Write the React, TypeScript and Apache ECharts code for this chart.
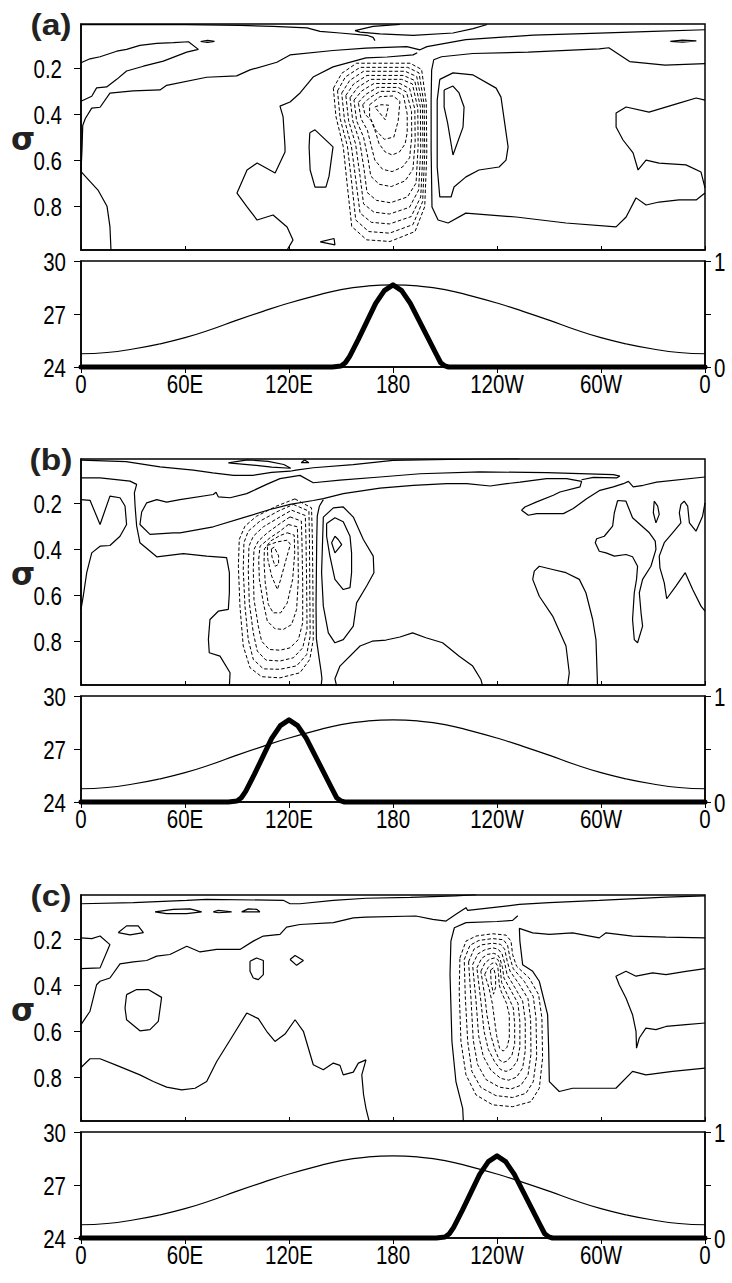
import React, { useEffect, useRef } from "react";
import * as echarts from "echarts";

type Pt = [number, number];

// ---------- axes / ticks ----------
const xTickValues = [0, 60, 120, 180, 240, 300, 360];
const xTickLabels = ["0", "60E", "120E", "180", "120W", "60W", "0"];
const sigmaTicks = [0.2, 0.4, 0.6, 0.8];
const sstTicks = [24, 27, 30];
const heatTickValues = [0, 1];
const heatTickLabels = ["0", "1"];
const panelLabels = ["(a)", "(b)", "(c)"];

// ---------- SST profile (left axis, degC) ----------
const sstLon = [0, 15, 30, 45, 60, 75, 90, 105, 120, 135, 150, 165, 180, 195, 210, 225, 240, 255, 270, 285, 300, 315, 330, 345, 360];
const sstVal = [24.75, 24.82, 25.02, 25.3, 25.66, 26.12, 26.65, 27.15, 27.62, 28.03, 28.38, 28.58, 28.65, 28.58, 28.38, 28.03, 27.62, 27.15, 26.65, 26.12, 25.66, 25.3, 25.02, 24.82, 24.75];

// ---------- heating profiles (right axis, 0..1) ----------
const heatLonA = [0, 145, 150, 152.5, 155, 160, 165, 170, 175, 180, 185, 190, 195, 200, 205, 207.5, 210, 212, 360];
const heatA = [0, 0, 0.01, 0.04, 0.1, 0.26, 0.43, 0.6, 0.72, 0.775, 0.72, 0.6, 0.44, 0.28, 0.12, 0.04, 0.01, 0, 0];
const heatLonB = [0, 85, 90, 92.5, 95, 100, 105, 110, 115, 120, 125, 130, 135, 140, 145, 147.5, 150, 152, 360];
const heatB = [0, 0, 0.01, 0.04, 0.1, 0.26, 0.43, 0.6, 0.72, 0.775, 0.72, 0.6, 0.44, 0.28, 0.12, 0.04, 0.01, 0, 0];
const heatLonC = [0, 205, 210, 212.5, 215, 220, 225, 230, 235, 240, 245, 250, 255, 260, 265, 267.5, 270, 272, 360];
const heatC = [0, 0, 0.01, 0.04, 0.1, 0.26, 0.43, 0.6, 0.72, 0.775, 0.72, 0.6, 0.44, 0.28, 0.12, 0.04, 0.01, 0, 0];

// ---------- panel (a) contours [lon, sigma] ----------
const aTop: Pt[] = [[0, 0.013], [60, 0.013], [91.7, 0.016], [110.8, 0.02], [130.4, 0.027], [137.9, 0.042], [149.4, 0.049], [165, 0.059], [168.5, 0.068], [169.6, 0.082]];
const aLens: Pt[] = [[184, 0.012], [168.5, 0.02], [158.1, 0.039], [161, 0.045], [172.5, 0.053], [191.6, 0.059], [214.6, 0.049], [226.2, 0.03], [234.3, 0.012]];
const aSliverL: Pt[] = [[69, 0.086], [73, 0.081], [77, 0.085], [73, 0.09], [69, 0.086]];
const aSliverR: Pt[] = [[340, 0.085], [347, 0.08], [355, 0.083], [347, 0.089], [340, 0.085]];
const aTongue: Pt[] = [[0, 0.178], [5.2, 0.161], [11, 0.152], [20.6, 0.128], [26.3, 0.12], [34, 0.103], [43.7, 0.094], [53.3, 0.091], [62, 0.087], [67.7, 0.12], [61, 0.132], [47.5, 0.171], [36, 0.193], [26.3, 0.214], [20.6, 0.25], [14.8, 0.283], [9, 0.287], [6.2, 0.323], [0, 0.345]];
const aL3: Pt[] = [[17.3, 0.99], [16.7, 0.889], [15, 0.8], [9.8, 0.73], [0, 0.65], [0.6, 0.55], [1, 0.45], [2.5, 0.42], [6.2, 0.375], [11, 0.371], [16.7, 0.31], [30, 0.3], [45.6, 0.296], [49.4, 0.276], [72.5, 0.241], [89.8, 0.235], [97.5, 0.209], [113, 0.176], [120.6, 0.144], [145.4, 0.125], [164.4, 0.115], [188, 0.108], [195.6, 0.122], [199.6, 0.108], [222, 0.078], [261, 0.058], [299, 0.05], [330, 0.042], [360, 0.035]];
const aL5: Pt[] = [[118.9, 0.99], [122.3, 0.947], [118.9, 0.89], [110.8, 0.838], [101.6, 0.86], [95.8, 0.803], [90, 0.743], [95.8, 0.643], [101.6, 0.613], [112, 0.656], [117.7, 0.565], [117.7, 0.543], [116.6, 0.413], [114.8, 0.366], [120.6, 0.348], [126.4, 0.309], [133.9, 0.24], [145.4, 0.196], [164.4, 0.157], [176.6, 0.153], [191.6, 0.144], [194, 0.135]];
const aBlob: Pt[] = [[132, 0.482], [135, 0.469], [145.4, 0.543], [143.1, 0.67], [141.3, 0.717], [135, 0.717], [132.2, 0.643], [131.6, 0.543], [132, 0.482]];
const aTri: Pt[] = [[138, 0.955], [146, 0.94], [146.5, 0.968], [138, 0.955]];
const aP1: Pt[] = [[360, 0.182], [337, 0.188], [316.5, 0.173], [304.5, 0.113], [299, 0.118], [258, 0.132], [226, 0.138], [208, 0.152], [203.5, 0.165], [202.3, 0.21], [202, 0.34], [202, 0.556], [202.5, 0.804], [206, 0.86], [211.8, 0.873], [222, 0.83], [251, 0.847], [279.8, 0.873], [308.7, 0.89], [314.5, 0.847], [320.2, 0.764], [326, 0.795], [333.5, 0.782], [345, 0.773], [354.9, 0.773], [360, 0.743]];
const aP2: Pt[] = [[207, 0.25], [214.6, 0.222], [226.2, 0.231], [239.5, 0.288], [242.3, 0.327], [246.4, 0.543], [245.2, 0.6], [241.2, 0.63], [229.6, 0.643], [222.1, 0.673], [215.2, 0.717], [213.5, 0.76], [207, 0.76], [205.5, 0.63], [205.5, 0.34], [207, 0.25]];
const aP3: Pt[] = [[209.5, 0.296], [214.6, 0.279], [218.1, 0.309], [221, 0.37], [220.4, 0.457], [214.6, 0.578], [211.5, 0.439], [209.5, 0.37], [209.5, 0.296]];
const aP4: Pt[] = [[360, 0.34], [354.9, 0.331], [345, 0.353], [327.7, 0.392], [314.5, 0.37], [308.7, 0.396], [308.7, 0.457], [312.7, 0.513], [318.5, 0.569], [321.4, 0.643], [326, 0.6], [333.5, 0.613], [349, 0.621], [357.7, 0.652], [360, 0.721]];

const aD0: Pt[] = [[145.6, 0.289], [150.4, 0.224], [159, 0.18], [189.8, 0.18], [196.5, 0.207], [199.2, 0.354], [199.5, 0.571], [198.3, 0.802], [192.7, 0.91], [178.3, 0.953], [164.8, 0.946], [156.2, 0.888], [153.7, 0.715], [151.3, 0.542], [147.1, 0.412], [145.6, 0.289]];
const aD1: Pt[] = [[148, 0.3], [152.5, 0.24], [161, 0.198], [188.5, 0.198], [195, 0.222], [198, 0.36], [198.3, 0.57], [197.1, 0.78], [191.5, 0.88], [178, 0.917], [166, 0.91], [158.5, 0.86], [156.2, 0.7], [153.7, 0.54], [149.5, 0.42], [148, 0.3]];
const aD2: Pt[] = [[150.4, 0.31], [155, 0.255], [163, 0.215], [187, 0.215], [193.7, 0.238], [197, 0.365], [197.3, 0.56], [196, 0.76], [190.5, 0.845], [178, 0.877], [167.5, 0.87], [161, 0.83], [158.6, 0.69], [156, 0.54], [152, 0.425], [150.4, 0.31]];
const aD3: Pt[] = [[152.8, 0.32], [157.3, 0.27], [165, 0.233], [186, 0.233], [192.5, 0.255], [195.8, 0.37], [196, 0.55], [194.8, 0.73], [189.5, 0.805], [178, 0.834], [169, 0.826], [163, 0.79], [161, 0.67], [158.4, 0.53], [154.4, 0.43], [152.8, 0.32]];
const aD4: Pt[] = [[155.2, 0.33], [159.6, 0.285], [167, 0.25], [185, 0.25], [191.2, 0.27], [194.3, 0.375], [194.5, 0.54], [193.3, 0.7], [188.3, 0.76], [178.5, 0.785], [170.5, 0.775], [165, 0.74], [163.3, 0.64], [160.8, 0.52], [156.8, 0.43], [155.2, 0.33]];
const aD5: Pt[] = [[157.5, 0.34], [162, 0.3], [169, 0.268], [184, 0.268], [189.6, 0.29], [192.6, 0.38], [192.8, 0.52], [191.5, 0.64], [187, 0.69], [179, 0.715], [172, 0.705], [167.2, 0.67], [165.5, 0.59], [163, 0.5], [159, 0.43], [157.5, 0.34]];
const aD6: Pt[] = [[160, 0.35], [164.3, 0.315], [171, 0.285], [183, 0.285], [187.8, 0.305], [190.7, 0.39], [190.8, 0.5], [189.6, 0.59], [185.5, 0.63], [179.5, 0.65], [174, 0.64], [169.5, 0.6], [167.5, 0.54], [165.2, 0.47], [161.5, 0.42], [160, 0.35]];
const aD7: Pt[] = [[162.5, 0.36], [166.5, 0.33], [172.5, 0.302], [182, 0.302], [186, 0.32], [188.2, 0.4], [188.2, 0.48], [187, 0.53], [183.7, 0.565], [179.5, 0.578], [175.5, 0.565], [172, 0.53], [170, 0.48], [167.5, 0.43], [163.8, 0.4], [162.5, 0.36]];
const aD8: Pt[] = [[166.5, 0.36], [172.5, 0.325], [180, 0.322], [184, 0.345], [183, 0.43], [180.5, 0.5], [175, 0.51], [170, 0.47], [166.5, 0.41], [166.5, 0.36]];
const aD9: Pt[] = [[169.5, 0.37], [173, 0.36], [177.5, 0.362], [175.5, 0.425], [169.5, 0.37]];

// ---------- panel (b) contours ----------
const bTop: Pt[] = [[0, 0.015], [26, 0.021], [45.6, 0.044], [64.8, 0.058], [76, 0.07], [88, 0.081], [99, 0.081], [110, 0.068], [120.6, 0.063], [124, 0.058], [134, 0.048], [157, 0.034], [180, 0.016], [220, 0.011], [253, 0.008]];
const bLens: Pt[] = [[85, 0.027], [96, 0.014], [108, 0.02], [117, 0.034], [121, 0.05], [110, 0.045], [96, 0.034], [85, 0.027]];
const bTri: Pt[] = [[127, 0.026], [129, 0.014], [131.5, 0.026], [127, 0.026]];
const bT2: Pt[] = [[0, 0.092], [11, 0.092], [28.3, 0.106], [32.1, 0.12], [30.8, 0.157], [31.2, 0.214], [32.1, 0.3], [34, 0.373], [43.7, 0.434], [59, 0.42], [72.5, 0.431], [84, 0.438], [85.6, 0.503], [85.6, 0.59], [85, 0.662], [79.2, 0.67], [74.4, 0.706], [73.5, 0.792], [74, 0.85], [80.2, 0.865], [86, 0.937], [85.6, 0.995]];
const bT3: Pt[] = [[360, 0.088], [332.1, 0.11], [324.4, 0.124], [318.6, 0.131], [315.8, 0.107], [312.9, 0.117], [307.1, 0.131], [299.4, 0.146], [291.7, 0.182], [284, 0.225], [278.3, 0.247], [262.9, 0.247], [258.1, 0.254], [254.2, 0.232], [256.1, 0.218], [262.9, 0.196], [272.5, 0.167], [276.3, 0.153], [287.9, 0.131], [288.8, 0.107], [280.2, 0.095], [268.6, 0.095], [253.3, 0.11], [245.6, 0.117], [236, 0.127], [222.5, 0.117], [211, 0.117], [191.7, 0.124], [172.5, 0.136], [151.3, 0.16], [139.8, 0.182], [134, 0.19], [120.6, 0.207], [109, 0.229], [95.6, 0.26], [76.3, 0.304], [57.1, 0.33], [53.3, 0.33], [39.8, 0.337], [34, 0.294], [35, 0.24], [37.9, 0.2], [43.7, 0.186], [49.4, 0.197], [57.1, 0.186], [76.3, 0.164], [77.9, 0.154], [79.2, 0.174], [86, 0.178], [95.6, 0.16], [107.1, 0.12], [114.8, 0.095], [126.3, 0.081], [134, 0.113], [149.4, 0.102], [172.5, 0.088], [195.6, 0.074], [230.2, 0.066], [268.6, 0.069], [307.1, 0.078], [310.9, 0.084], [309, 0.092], [295.6, 0.09], [288.8, 0.1]];
const bLeft: Pt[] = [[0, 0.186], [5.2, 0.189], [11, 0.294], [16.7, 0.171], [22.5, 0.178], [25.4, 0.214], [26.3, 0.294], [22.5, 0.345], [16.7, 0.385], [11, 0.388], [6.2, 0.417], [3.3, 0.503], [1.3, 0.605], [0, 0.662]];
const bZero: Pt[] = [[139.8, 0.186], [137.5, 0.215], [136.3, 0.258], [136, 0.359], [135.8, 0.503], [135.6, 0.65], [135.8, 0.79], [137.5, 0.88], [138.5, 0.93], [139, 0.963], [138.5, 0.995]];
const bDome: Pt[] = [[147.5, 0.995], [146.5, 0.963], [149.4, 0.908], [161, 0.821], [168, 0.8], [176, 0.795], [184, 0.782], [191.3, 0.764], [199, 0.785], [208.6, 0.807], [218.2, 0.865], [226, 0.908], [230.7, 0.966], [231.7, 0.995]];
const bPos1: Pt[] = [[139.8, 0.262], [145.6, 0.222], [151.3, 0.218], [157.1, 0.262], [162.9, 0.359], [168.6, 0.431], [169, 0.503], [164.8, 0.561], [159, 0.634], [157.1, 0.735], [151.3, 0.793], [146.5, 0.807], [142.7, 0.764], [139.8, 0.648], [138.8, 0.503], [139.4, 0.359], [139.8, 0.262]];
const bPos2: Pt[] = [[141.7, 0.29], [146.5, 0.265], [151.3, 0.282], [155.2, 0.345], [156.1, 0.417], [156.1, 0.503], [155.2, 0.568], [151.3, 0.576], [146.5, 0.532], [143.6, 0.431], [141.7, 0.345], [141.7, 0.29]];
const bPos3: Pt[] = [[146.5, 0.345], [148.4, 0.359], [150.4, 0.381], [146.5, 0.417], [144.6, 0.373], [146.5, 0.345]];
const bR3: Pt[] = [[280.7, 0.995], [281.7, 0.937], [279.8, 0.821], [272.1, 0.691], [264.4, 0.605], [260.6, 0.532], [261.5, 0.496], [264.4, 0.475], [272.1, 0.489], [279.8, 0.503], [287.5, 0.532], [291.3, 0.59], [295.2, 0.706], [297.1, 0.793], [298, 0.995]];
const bR4: Pt[] = [[309.6, 0.19], [314.4, 0.193], [318.2, 0.265], [327.9, 0.33], [331.3, 0.366], [331.7, 0.402], [328.8, 0.475], [324, 0.532], [322.1, 0.59], [323.1, 0.677], [324, 0.735], [321.1, 0.807], [319.2, 0.793], [318.2, 0.706], [319.2, 0.59], [320.5, 0.532], [321.1, 0.475], [318.2, 0.434], [314.4, 0.424], [307.7, 0.431], [302.9, 0.417], [299, 0.41], [296.7, 0.373], [297.5, 0.356], [301.9, 0.345], [306.7, 0.301], [307.7, 0.243], [309.6, 0.19]];
const bR5: Pt[] = [[330.7, 0.193], [332.7, 0.214], [333.6, 0.25], [331.7, 0.287], [330.2, 0.243], [330.7, 0.193]];
const bR6: Pt[] = [[360, 0.2], [358.6, 0.258], [354.8, 0.323], [351, 0.287], [350, 0.214], [348, 0.193], [346.1, 0.207], [345.2, 0.243], [346.1, 0.287], [341.3, 0.33], [336.5, 0.373], [333.6, 0.431], [334, 0.482], [336.5, 0.547], [337.9, 0.616], [343.2, 0.561], [348.6, 0.503], [352.9, 0.576], [357.7, 0.648], [360, 0.67]];

const bD0: Pt[] = [[123.4, 0.183], [133, 0.222], [133.5, 0.359], [133.8, 0.576], [134, 0.793], [132, 0.879], [126.3, 0.937], [114.8, 0.959], [104.2, 0.954], [97.5, 0.915], [93.6, 0.821], [91.7, 0.648], [90.8, 0.475], [91.3, 0.359], [94.6, 0.301], [101.3, 0.258], [112.9, 0.214], [123.4, 0.183]];
const bD1: Pt[] = [[122.5, 0.207], [131.5, 0.236], [131.8, 0.359], [132, 0.576], [132.2, 0.778], [130.2, 0.858], [124.4, 0.907], [114.8, 0.922], [105.2, 0.92], [99.4, 0.879], [96.5, 0.793], [94.6, 0.648], [93.6, 0.489], [94, 0.373], [96.5, 0.323], [103.3, 0.279], [113.8, 0.236], [122.5, 0.207]];
const bD2: Pt[] = [[121.5, 0.232], [129.4, 0.255], [129.8, 0.359], [130.2, 0.561], [130.4, 0.749], [127.9, 0.829], [122.5, 0.872], [114.8, 0.886], [106.7, 0.882], [101.7, 0.843], [99.4, 0.764], [97.1, 0.634], [96.5, 0.489], [96.9, 0.388], [99.4, 0.345], [105.2, 0.304], [114.8, 0.261], [121.5, 0.232]];
const bD3: Pt[] = [[120.6, 0.261], [127.1, 0.279], [127.5, 0.373], [127.9, 0.547], [127.9, 0.72], [125.4, 0.793], [120.6, 0.829], [114.8, 0.839], [108.6, 0.836], [104.2, 0.8], [102.3, 0.735], [99.8, 0.619], [99.4, 0.489], [99.8, 0.402], [102.3, 0.366], [107.5, 0.33], [114.8, 0.29], [120.6, 0.261]];
const bD4: Pt[] = [[119.6, 0.294], [124.8, 0.304], [125.2, 0.388], [125.4, 0.532], [124.4, 0.662], [121.5, 0.728], [116.7, 0.749], [111.9, 0.746], [107.5, 0.713], [105.2, 0.634], [102.9, 0.532], [102.5, 0.446], [103.3, 0.388], [109, 0.352], [114.8, 0.323], [119.6, 0.294]];
const bD5: Pt[] = [[119, 0.33], [123, 0.34], [123.3, 0.417], [122.1, 0.532], [119, 0.634], [115.2, 0.677], [110.9, 0.677], [108.1, 0.641], [106.3, 0.547], [105.6, 0.46], [105.8, 0.4], [109.5, 0.365], [114.5, 0.343], [119, 0.33]];
const bD6: Pt[] = [[107.5, 0.385], [112.9, 0.37], [119, 0.362], [120.8, 0.38], [118.3, 0.446], [115.2, 0.532], [113.3, 0.576], [110, 0.518], [107.8, 0.446], [107.5, 0.385]];
const bD7: Pt[] = [[109.8, 0.4], [111.5, 0.392], [114, 0.43], [114, 0.467], [112, 0.475], [110.2, 0.435], [109.8, 0.4]];

// ---------- panel (c) contours ----------
const cTop: Pt[] = [[0, 0.048], [30.2, 0.043], [61, 0.033], [72.5, 0.029], [116.7, 0.033], [120.6, 0.048], [126.3, 0.048], [145.6, 0.033], [164.4, 0.024], [190, 0.02], [216, 0.014], [228, 0.008]];
const cT2: Pt[] = [[0, 0.572], [5.2, 0.514], [9, 0.399], [11, 0.384], [16.7, 0.37], [22.5, 0.309], [30.2, 0.3], [37.9, 0.294], [43.7, 0.275], [51.3, 0.268], [61, 0.232], [68.7, 0.257], [78.3, 0.246], [91.7, 0.246], [99.4, 0.21], [105.2, 0.188], [114.8, 0.181], [118.6, 0.149], [126.3, 0.138], [145.6, 0.13], [157.1, 0.109], [164.4, 0.106], [193.2, 0.101], [202.9, 0.116], [210.6, 0.123], [216.3, 0.094], [222.1, 0.065], [223.1, 0.077], [252.9, 0.051], [270.2, 0.043], [299, 0.033], [337.5, 0.019], [360, 0.014]];
const cLeft1: Pt[] = [[0, 0.196], [6.2, 0.199], [11, 0.188], [16.7, 0.225], [11, 0.326], [0, 0.329]];
const cTri: Pt[] = [[21.5, 0.173], [26.3, 0.144], [33, 0.144], [36, 0.173], [28.3, 0.183], [21.5, 0.173]];
const cLens: Pt[] = [[42.7, 0.083], [53.3, 0.072], [62.9, 0.07], [69.6, 0.083], [61, 0.091], [49.4, 0.091], [42.7, 0.083]];
const cDash1: Pt[] = [[76.3, 0.083], [79.2, 0.077], [86.9, 0.083], [79.2, 0.087], [76.3, 0.083]];
const cDash2: Pt[] = [[92.7, 0.083], [96.5, 0.07], [101.3, 0.072], [103.2, 0.083], [92.7, 0.083]];
const cBlob: Pt[] = [[26.3, 0.442], [32.1, 0.42], [38.8, 0.42], [46.5, 0.454], [44.6, 0.558], [39.8, 0.594], [34, 0.599], [26.3, 0.551], [25.4, 0.5], [26.3, 0.442]];
const cBlob2: Pt[] = [[97.5, 0.297], [101.3, 0.283], [105.2, 0.294], [105.2, 0.355], [102.3, 0.377], [99.4, 0.37], [97.5, 0.341], [97.5, 0.297]];
const cDiamond: Pt[] = [[120.6, 0.29], [123.5, 0.272], [128.3, 0.294], [124.4, 0.315], [120.6, 0.29]];
const cBottom: Pt[] = [[0, 0.758], [5.2, 0.72], [11, 0.72], [20.6, 0.749], [34, 0.79], [41.7, 0.819], [49.4, 0.843], [58.1, 0.855], [65.8, 0.848], [72.5, 0.819], [78.3, 0.732], [87.9, 0.616], [95.6, 0.522], [102.3, 0.546], [107.1, 0.601], [111.9, 0.645], [117.7, 0.613], [123.5, 0.551], [128.3, 0.601], [134, 0.746], [139.8, 0.768], [145.6, 0.739], [149.4, 0.749], [151.3, 0.79], [157.1, 0.778], [160, 0.739], [164.4, 0.725], [162, 0.79], [163, 0.875], [164.4, 0.935], [166.3, 0.993]];
const cZero: Pt[] = [[220.6, 0.993], [220.2, 0.935], [216.3, 0.819], [214, 0.645], [212.9, 0.355], [213.4, 0.21], [215.4, 0.152], [222.1, 0.13], [240, 0.125], [249, 0.12], [252, 0.1]];
const cPos: Pt[] = [[360, 0.196], [337.5, 0.193], [318.2, 0.188], [302.9, 0.174], [299, 0.196], [283.6, 0.174], [270.2, 0.181], [260.6, 0.174], [252.9, 0.155], [253.2, 0.21], [254.8, 0.312], [260.6, 0.341], [264.4, 0.384], [269.2, 0.529], [269.8, 0.674], [270.2, 0.819], [275.9, 0.862], [283.6, 0.848], [308.6, 0.848], [318.2, 0.775], [325.9, 0.79], [341.3, 0.775], [360, 0.761]];
const cRight: Pt[] = [[360, 0.329], [349, 0.341], [337.5, 0.355], [329.8, 0.348], [320.2, 0.362], [314.4, 0.341], [308.6, 0.362], [310.5, 0.399], [314.4, 0.457], [318.2, 0.529], [320.2, 0.601], [320.5, 0.674], [322.1, 0.63], [325.9, 0.587], [331.7, 0.594], [337.5, 0.58], [349, 0.572], [360, 0.565]];

const cD0: Pt[] = [[218.6, 0.283], [222.1, 0.21], [227.9, 0.188], [237.5, 0.178], [245.2, 0.184], [248.1, 0.21], [249, 0.268], [251.3, 0.319], [258.6, 0.37], [264, 0.442], [265.9, 0.543], [266.3, 0.717], [264.4, 0.848], [259.6, 0.906], [249, 0.928], [237.5, 0.92], [227.9, 0.877], [222.1, 0.79], [219.2, 0.645], [218.2, 0.428], [218.6, 0.283]];
const cD1: Pt[] = [[221.1, 0.29], [224.4, 0.228], [229.6, 0.207], [237.5, 0.199], [243.7, 0.204], [246.1, 0.228], [247.5, 0.283], [249.4, 0.33], [255.7, 0.384], [260.9, 0.45], [262.5, 0.543], [262.9, 0.71], [260.9, 0.82], [256.7, 0.87], [249, 0.888], [239.4, 0.88], [230.7, 0.845], [225.5, 0.775], [223.1, 0.645], [221.7, 0.45], [221.1, 0.29]];
const cD2: Pt[] = [[223.6, 0.3], [226.7, 0.245], [231.3, 0.226], [237.5, 0.219], [242.1, 0.224], [244.4, 0.245], [245.9, 0.297], [247.5, 0.34], [253, 0.399], [257.9, 0.46], [259.4, 0.55], [259.6, 0.7], [257.9, 0.79], [253.8, 0.835], [248.1, 0.851], [241.3, 0.843], [233.6, 0.81], [228.8, 0.745], [226.3, 0.64], [225, 0.46], [223.6, 0.3]];
const cD3: Pt[] = [[225.9, 0.312], [229, 0.265], [232.9, 0.248], [237.5, 0.239], [240.7, 0.245], [242.9, 0.265], [244.6, 0.31], [245.8, 0.355], [250.2, 0.41], [254.8, 0.47], [256.3, 0.555], [256.3, 0.685], [254.8, 0.76], [251.3, 0.8], [246.7, 0.813], [242.1, 0.805], [236.5, 0.77], [232.1, 0.71], [229.4, 0.62], [227.9, 0.47], [225.9, 0.312]];
const cD4: Pt[] = [[228.4, 0.326], [231.1, 0.285], [234.4, 0.268], [237.9, 0.263], [240.2, 0.268], [241.7, 0.285], [243.2, 0.325], [244, 0.37], [248.1, 0.425], [252.1, 0.48], [253.2, 0.56], [253.2, 0.67], [251.7, 0.73], [248.3, 0.765], [245.2, 0.775], [242.1, 0.767], [238.8, 0.735], [235, 0.68], [232.5, 0.6], [230.7, 0.47], [228.4, 0.326]];
const cD5: Pt[] = [[230.7, 0.341], [233, 0.305], [235.8, 0.288], [238.6, 0.283], [240.5, 0.29], [241.7, 0.31], [242.1, 0.35], [242.7, 0.39], [246.1, 0.445], [249.4, 0.5], [250.2, 0.57], [250.2, 0.655], [248.6, 0.705], [245.8, 0.73], [243.6, 0.736], [241.3, 0.725], [238.8, 0.68], [236.3, 0.615], [234.2, 0.53], [233, 0.45], [230.7, 0.341]];
const cD6: Pt[] = [[232.9, 0.355], [234.8, 0.325], [237.1, 0.306], [239.2, 0.304], [240.4, 0.318], [240.9, 0.355], [241.3, 0.4], [242.5, 0.43], [245.5, 0.48], [247.1, 0.53], [247.1, 0.63], [245.8, 0.67], [243.6, 0.687], [241.5, 0.675], [239.8, 0.62], [238.6, 0.555], [237.3, 0.48], [235.3, 0.41], [232.9, 0.355]];
const cD7: Pt[] = [[236.3, 0.335], [238, 0.326], [239.2, 0.36], [239.2, 0.41], [238, 0.44], [236.6, 0.39], [236.3, 0.335]];

const aSolid = [aTop, aLens, aSliverL, aSliverR, aTongue, aL3, aL5, aBlob, aTri, aP1, aP2, aP3, aP4];
const aDashed = [aD0, aD1, aD2, aD3, aD4, aD5, aD6, aD7, aD8, aD9];
const bSolid = [bTop, bLens, bTri, bT2, bT3, bLeft, bZero, bDome, bPos1, bPos2, bPos3, bR3, bR4, bR5, bR6];
const bDashed = [bD0, bD1, bD2, bD3, bD4, bD5, bD6, bD7];
const cSolid = [cTop, cT2, cLeft1, cTri, cLens, cDash1, cDash2, cBlob, cBlob2, cDiamond, cBottom, cZero, cPos, cRight];
const cDashed = [cD0, cD1, cD2, cD3, cD4, cD5, cD6, cD7];

const OFFS = [0, 435, 871];
const TICK_FONT = '25px "Liberation Sans", Arial, sans-serif';

function buildOption() {
  const panels = [
    { solid: aSolid, dashed: aDashed, hLon: heatLonA, h: heatA },
    { solid: bSolid, dashed: bDashed, hLon: heatLonB, h: heatB },
    { solid: cSolid, dashed: cDashed, hLon: heatLonC, h: heatC },
  ];
  const grid: any[] = [];
  const xAxis: any[] = [];
  const yAxis: any[] = [];
  const series: any[] = [];
  const axLine = { show: true, lineStyle: { color: "#000", width: 1.5 } };

  panels.forEach((p, i) => {
    const o = OFFS[i];
    grid.push({ left: 81, top: 24 + o, width: 624, height: 226, show: true, borderColor: "#000", borderWidth: 1.5 });
    grid.push({ left: 81, top: 261 + o, width: 624, height: 106, show: true, borderColor: "#000", borderWidth: 1.5 });

    xAxis.push({
      type: "value", gridIndex: 2 * i, min: 0, max: 360, interval: 60, axisLine: axLine,
      axisTick: { show: true, inside: true, length: 4, lineStyle: { color: "#000", width: 1 } },
      axisLabel: { show: false }, splitLine: { show: false },
    });
    xAxis.push({
      type: "value", gridIndex: 2 * i + 1, min: 0, max: 360, interval: 60, axisLine: axLine,
      axisTick: { show: true, inside: false, length: 6, lineStyle: { color: "#000", width: 1 } },
      axisLabel: { show: false }, splitLine: { show: false },
    });
    yAxis.push({
      type: "value", gridIndex: 2 * i, min: 0.01, max: 0.99, inverse: true, axisLine: axLine,
      axisTick: { show: true, inside: false, length: 7, customValues: sigmaTicks, lineStyle: { color: "#000", width: 1 } },
      axisLabel: { show: false }, splitLine: { show: false },
    });
    yAxis.push({
      type: "value", gridIndex: 2 * i + 1, position: "left", min: 24, max: 30, interval: 3, axisLine: axLine,
      axisTick: { show: true, inside: false, length: 7, lineStyle: { color: "#000", width: 1 } },
      axisLabel: { show: false }, splitLine: { show: false },
    });
    yAxis.push({
      type: "value", gridIndex: 2 * i + 1, position: "right", min: 0, max: 1, interval: 0.5, axisLine: axLine,
      axisTick: { show: true, inside: false, length: 6, lineStyle: { color: "#000", width: 1 } },
      axisLabel: { show: false }, splitLine: { show: false },
    });

    p.solid.forEach((line) => {
      series.push({
        type: "line", xAxisIndex: 2 * i, yAxisIndex: 3 * i, data: line, symbol: "none", showSymbol: false,
        silent: true, lineStyle: { color: "#000", width: 1.2, type: "solid" }, z: 3,
      });
    });
    p.dashed.forEach((line) => {
      series.push({
        type: "line", xAxisIndex: 2 * i, yAxisIndex: 3 * i, data: line, symbol: "none", showSymbol: false,
        silent: true, lineStyle: { color: "#000", width: 1, type: [3.5, 2.2] }, z: 3,
      });
    });
    series.push({
      type: "line", xAxisIndex: 2 * i + 1, yAxisIndex: 3 * i + 1,
      data: sstLon.map((x, k) => [x, sstVal[k]]), smooth: true, symbol: "none", showSymbol: false,
      silent: true, lineStyle: { color: "#000", width: 1.2 }, z: 3,
    });
    series.push({
      type: "line", xAxisIndex: 2 * i + 1, yAxisIndex: 3 * i + 2,
      data: p.hLon.map((x, k) => [x, p.h[k]]), symbol: "none", showSymbol: false, clip: false,
      silent: true, lineStyle: { color: "#000", width: 5, join: "round", cap: "round" }, z: 4,
    });
  });

  return { animation: false, backgroundColor: "#fff", grid, xAxis, yAxis, series };
}

function tickText(text: string, x: number, y: number, align: string, valign: string) {
  return {
    type: "text", x, y, scaleX: 0.82, scaleY: 1, silent: true,
    style: { text, x: 0, y: 0, textAlign: align, textVerticalAlign: valign, fill: "#000", font: TICK_FONT },
  };
}

function buildLabels(chart: any) {
  const els: any[] = [];
  for (let i = 0; i < 3; i++) {
    const o = OFFS[i];
    els.push({
      type: "text", x: 51, y: 25 + o, scaleX: 1.12, scaleY: 1, silent: true,
      style: { text: panelLabels[i], x: 0, y: 0, textAlign: "center", textVerticalAlign: "middle", fill: "#222", font: 'bold 30px "Liberation Sans", Arial, sans-serif' },
    });
    els.push({
      type: "text", x: 23, y: 139 + o, silent: true,
      style: { text: "σ", x: 0, y: 0, textAlign: "center", textVerticalAlign: "middle", fill: "#222", font: 'bold 31px "DejaVu Sans", sans-serif' },
    });
    const xLeft = chart.convertToPixel({ xAxisIndex: 2 * i }, 0);
    sigmaTicks.forEach((v) => {
      const y = chart.convertToPixel({ yAxisIndex: 3 * i }, v);
      els.push(tickText(v.toFixed(1), xLeft - 19, y + 1, "right", "middle"));
    });
    const xLeft2 = chart.convertToPixel({ xAxisIndex: 2 * i + 1 }, 0);
    sstTicks.forEach((v) => {
      const y = chart.convertToPixel({ yAxisIndex: 3 * i + 1 }, v);
      els.push(tickText(String(v), xLeft2 - 15, y + 1, "right", "middle"));
    });
    const xRight = chart.convertToPixel({ xAxisIndex: 2 * i + 1 }, 360);
    heatTickValues.forEach((v, k) => {
      const y = chart.convertToPixel({ yAxisIndex: 3 * i + 2 }, v);
      els.push(tickText(heatTickLabels[k], xRight + 9, y + 1, "left", "middle"));
    });
    const yBottom = chart.convertToPixel({ yAxisIndex: 3 * i + 1 }, 24);
    xTickValues.forEach((v, k) => {
      const x = chart.convertToPixel({ xAxisIndex: 2 * i + 1 }, v);
      els.push(tickText(xTickLabels[k], x, yBottom + 17, "center", "middle"));
    });
  }
  return els;
}

export default function App() {
  const ref = useRef<HTMLDivElement>(null);
  useEffect(() => {
    const chart = echarts.init(ref.current!, null, { renderer: "svg" });
    chart.setOption(buildOption() as any);
    chart.setOption({ graphic: { elements: buildLabels(chart) } } as any);
    return () => chart.dispose();
  }, []);
  return <div ref={ref} style={{ position: "fixed", left: 0, top: 0, width: 732, height: 1283, background: "#fff" }} />;
}
